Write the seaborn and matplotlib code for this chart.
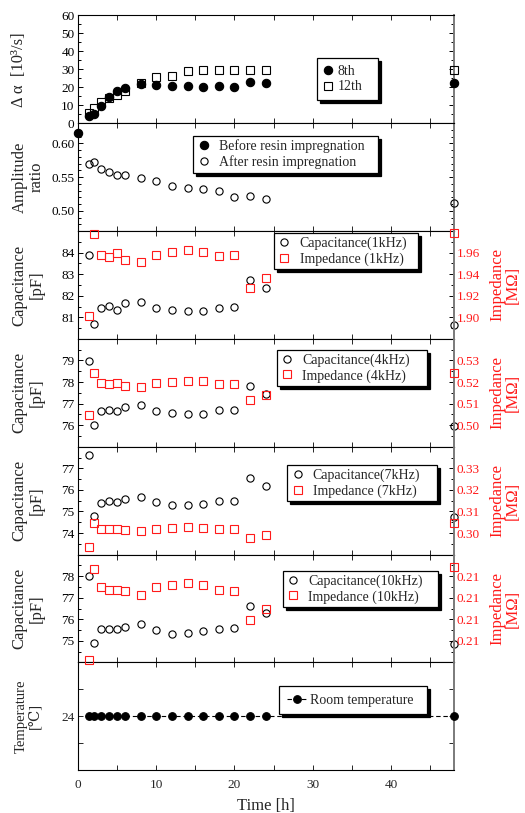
import matplotlib
matplotlib.use("Agg")
import matplotlib.pyplot as plt
from matplotlib.ticker import MultipleLocator, FixedLocator, FormatStrFormatter, FixedFormatter
import seaborn as sns

# ---- measurement data ----
hours = [1.4, 2, 3, 4, 5, 6, 8, 10, 12, 14, 16, 18, 20, 22, 24, 48]

alpha_8th = [3.9, 5.2, 9.3, 14.3, 17.9, 19.6, 21.6, 21.0, 20.5, 20.5, 20.1, 20.7, 20.1, 22.9, 22.3, 22.5]
alpha_12th = [5.6, 8.6, 11.7, 14.0, 15.8, 18.0, 22.3, 25.9, 26.3, 28.9, 29.8, 29.8, 29.4, 29.8, 29.4, 29.4]

amp_before_hours = [0]
amp_before = [0.616]
amp_after = [0.570, 0.572, 0.562, 0.557, 0.553, 0.553, 0.548, 0.544, 0.537, 0.534, 0.533, 0.530,
             0.521, 0.522, 0.518, 0.511]

cap_1k = [83.87, 80.67, 81.44, 81.52, 81.33, 81.67, 81.73, 81.42, 81.33, 81.31, 81.31, 81.45,
          81.47, 82.75, 82.36, 80.64]
imp_1k = [1.901, 1.977, 1.958, 1.956, 1.960, 1.953, 1.951, 1.958, 1.961, 1.962, 1.961, 1.957,
          1.958, 1.927, 1.936, 1.978]

cap_4k = [78.98, 76.00, 76.64, 76.68, 76.64, 76.85, 76.93, 76.67, 76.57, 76.54, 76.54, 76.68,
          76.71, 77.83, 77.45, 75.95]
imp_4k = [0.5045, 0.5240, 0.5195, 0.5189, 0.5197, 0.5183, 0.5178, 0.5194, 0.5200, 0.5203, 0.5203,
          0.5192, 0.5191, 0.5118, 0.5142, 0.5243]

cap_7k = [77.63, 74.78, 75.41, 75.47, 75.45, 75.58, 75.67, 75.42, 75.31, 75.28, 75.33, 75.48,
          75.50, 76.53, 76.19, 74.73]
imp_7k = [0.2935, 0.3046, 0.3020, 0.3017, 0.3017, 0.3012, 0.3011, 0.3020, 0.3025, 0.3026, 0.3025,
          0.3018, 0.3017, 0.2977, 0.2989, 0.3045]

cap_10k = [78.03, 74.92, 75.53, 75.56, 75.56, 75.62, 75.78, 75.50, 75.34, 75.36, 75.45, 75.57,
           75.60, 76.63, 76.29, 74.87]
imp_10k = [0.20611, 0.21035, 0.20949, 0.20937, 0.20937, 0.20932, 0.20912, 0.20951, 0.20958,
           0.20968, 0.20958, 0.20938, 0.20932, 0.20798, 0.20849, 0.21043]

room_temp = [24, 24, 24, 24, 24, 24, 24, 24, 24, 24, 24, 24, 24, 24, 24, 24]

x_ticks = [0, 10, 20, 30, 40]

# ---- style ----
sns.set_style("ticks")
plt.rcParams["font.family"] = ["Liberation Serif", "DejaVu Serif"]
plt.rcParams["axes.linewidth"] = 0.8

RED = "#ff1a1a"
GREY = "#7a7a7a"
LABEL_FS = 12
TICK_FS = 9.5
LEG_FS = 10

fig = plt.figure(figsize=(5.25, 8.13), dpi=100)
gs = fig.add_gridspec(7, 1, left=78 / 525, right=453.5 / 525,
                      top=1 - 15.3 / 813, bottom=1 - 770.3 / 813, hspace=0)
axes = []
for i in range(7):
    axes.append(fig.add_subplot(gs[i], sharex=axes[0] if axes else None))


def open_pts(ax, y, marker, color, ms, label):
    sns.lineplot(x=hours, y=y, ax=ax, linestyle="", marker=marker, markersize=ms,
                 markerfacecolor="none", markeredgecolor=color, markeredgewidth=0.8,
                 color=color, label=label, legend=False, clip_on=False, zorder=3)


def filled_pts(ax, x, y, marker, ms, label):
    sns.lineplot(x=x, y=y, ax=ax, linestyle="", marker=marker, markersize=ms,
                 markerfacecolor="k", markeredgecolor="k", markeredgewidth=0.8,
                 color="k", label=label, legend=False, clip_on=False, zorder=3)


def style_x(ax, bottom):
    ax.set_xlim(0, 48)
    ax.xaxis.set_major_locator(FixedLocator(x_ticks))
    ax.xaxis.set_minor_locator(MultipleLocator(5))
    ax.tick_params(axis="x", which="both", direction="in", top=True, bottom=True,
                   length=3.6, width=0.7, labelsize=TICK_FS, pad=6,
                   labelbottom=bottom)
    ax.set_xlabel("Time [h]" if bottom else "", fontsize=LABEL_FS, labelpad=5)


def style_left(ax, lim, major, minor, fmt, mirror):
    ax.set_ylim(*lim)
    ax.yaxis.set_major_locator(FixedLocator(major))
    ax.yaxis.set_minor_locator(MultipleLocator(minor))
    if fmt:
        ax.yaxis.set_major_formatter(FormatStrFormatter(fmt))
    ax.tick_params(axis="y", which="major", length=3.6, width=0.7)
    ax.tick_params(axis="y", which="minor", length=2.0, width=0.7)
    ax.tick_params(axis="y", which="both", direction="in", left=True, right=mirror,
                   labelsize=TICK_FS, pad=2.5, colors="k")
    for s in ("left", "top", "bottom"):
        ax.spines[s].set_color("k")
        ax.spines[s].set_linewidth(0.8)
    ax.spines["right"].set_color(GREY)
    ax.spines["right"].set_linewidth(1.4)
    if not mirror:
        ax.spines["right"].set_visible(False)


def left_label(ax, text, xpos, fs=LABEL_FS):
    ax.set_ylabel(text, fontsize=fs, linespacing=1.05)
    ax.yaxis.set_label_coords(xpos, 0.5)
    ax.yaxis.label.set_verticalalignment("center")


def twin_axis(ax, lim, major, minor, fmt):
    tw = ax.twinx()
    tw.set_ylim(*lim)
    tw.yaxis.set_major_locator(FixedLocator(major))
    tw.yaxis.set_minor_locator(MultipleLocator(minor))
    tw.yaxis.set_major_formatter(FormatStrFormatter(fmt))
    tw.tick_params(axis="y", which="major", length=3.6, width=0.7)
    tw.tick_params(axis="y", which="minor", length=2.0, width=0.7)
    tw.tick_params(axis="y", which="both", direction="in", right=True, left=False,
                   labelsize=TICK_FS, pad=2.5, color="k", labelcolor=RED)
    for s in ("left", "top", "bottom"):
        tw.spines[s].set_visible(False)
    tw.spines["right"].set_color(GREY)
    tw.spines["right"].set_linewidth(1.4)
    tw.set_ylabel("Impedance\n[MΩ]", fontsize=LABEL_FS, color=RED, linespacing=0.95,
                  rotation=90)
    tw.yaxis.set_label_coords(1.137, 0.5)
    tw.yaxis.label.set_verticalalignment("center")
    return tw


def boxed_legend(target, handles, labels, x, top, width, **kw):
    opts = dict(fontsize=LEG_FS, borderpad=0.25, handlelength=1.0, handletextpad=0.6,
                labelspacing=0.15, handleheight=0.7)
    opts.update(kw)
    leg = target.legend(handles, labels, loc="upper left",
                        bbox_to_anchor=(x, top - 0.4, width, 0.4), mode="expand",
                        borderaxespad=0, frameon=True, fancybox=False, framealpha=1,
                        edgecolor="k", facecolor="white",
                        shadow={"color": "k", "alpha": 1, "ox": 2.2, "oy": -2.2}, **opts)
    leg.get_frame().set_linewidth(0.9)
    leg.set_zorder(10)
    return leg


# ---- panel 1: attenuation change ----
ax = axes[0]
filled_pts(ax, hours, alpha_8th, "o", 6, "8th")
open_pts(ax, alpha_12th, "s", "k", 6, "12th")
style_left(ax, (0, 60), [0, 10, 20, 30, 40, 50, 60], 5, None, True)
style_x(ax, False)
left_label(ax, "Δ α  [10³/s]", -0.158)
h, l = ax.get_legend_handles_labels()
boxed_legend(ax, h, l, 0.636, 0.601, 0.162, borderpad=0.45, handlelength=0.7,
             handletextpad=0.35, labelspacing=0.2)

# ---- panel 2: amplitude ratio ----
ax = axes[1]
filled_pts(ax, amp_before_hours, amp_before, "o", 6, "Before resin impregnation")
open_pts(ax, amp_after, "o", "k", 5.2, "After resin impregnation")
style_left(ax, (0.47, 0.63), [0.50, 0.55, 0.60], 0.01, "%.2f", True)
style_x(ax, False)
left_label(ax, "Amplitude\nratio", -0.133)
h, l = ax.get_legend_handles_labels()
boxed_legend(ax, h, l, 0.307, 0.881, 0.491)

# ---- panels 3-6: capacitance and impedance ----
freq_panels = [
    (cap_1k, imp_1k, "1kHz", (80, 85), [81, 82, 83, 84],
     (1.88, 1.98), [1.90, 1.92, 1.94, 1.96], 0.01, "%.2f", (0.522, 0.978, 0.384)),
    (cap_4k, imp_4k, "4kHz", (75, 80), [76, 77, 78, 79],
     (0.49, 0.54), [0.50, 0.51, 0.52, 0.53], 0.005, "%.2f", (0.529, 0.897, 0.400)),
    (cap_7k, imp_7k, "7kHz", (73, 78), [74, 75, 76, 77],
     (0.29, 0.34), [0.30, 0.31, 0.32, 0.33], 0.005, "%.2f", (0.557, 0.830, 0.398)),
    (cap_10k, imp_10k, "10kHz", (74, 79), [75, 76, 77, 78],
     (0.206, 0.211), [0.207, 0.208, 0.209, 0.210], 0.0005, "%.2f", (0.545, 0.848, 0.413)),
]

for k, (cap, imp, freq, clim, cticks, zlim, zticks, zminor, zfmt, lpos) in enumerate(freq_panels):
    ax = axes[2 + k]
    open_pts(ax, cap, "o", "k", 5.2, f"Capacitance({freq})")
    style_left(ax, clim, cticks, 0.5, None, False)
    style_x(ax, False)
    left_label(ax, "Capacitance\n[pF]", -0.133)
    tw = twin_axis(ax, zlim, zticks, zminor, zfmt)
    open_pts(tw, imp, "s", RED, 5.4, f"Impedance ({freq})")
    tw.set_xlabel("")
    h1, l1 = ax.get_legend_handles_labels()
    h2, l2 = tw.get_legend_handles_labels()
    boxed_legend(tw, h1 + h2, l1 + l2, *lpos)

# ---- panel 7: temperature ----
ax = axes[6]
sns.lineplot(x=hours, y=room_temp, ax=ax, linestyle=(0, (4, 2.5)), linewidth=0.8,
             marker="o", markersize=5.5, markerfacecolor="k", markeredgecolor="k",
             markeredgewidth=0.8, color="k", label="Room temperature", legend=False,
             clip_on=False, zorder=3)
ax.set_ylim(22, 26)
ax.yaxis.set_major_locator(FixedLocator([23, 24, 25]))
ax.yaxis.set_major_formatter(FixedFormatter(["", "24", ""]))
ax.yaxis.set_minor_locator(FixedLocator([]))
ax.tick_params(axis="y", which="major", direction="in", left=True, right=True,
               length=3.6, width=0.7, labelsize=TICK_FS, pad=2.5)
for s in ("left", "top", "bottom"):
    ax.spines[s].set_color("k")
    ax.spines[s].set_linewidth(0.8)
ax.spines["right"].set_color(GREY)
ax.spines["right"].set_linewidth(1.4)
style_x(ax, True)
left_label(ax, "Temperature\n[℃]", -0.133, fs=10.5)
h, l = ax.get_legend_handles_labels()
boxed_legend(ax, h, l, 0.536, 0.781, 0.393, borderpad=0.55, handlelength=1.5,
             handletextpad=0.15)

fig.savefig("out.png", dpi=100)
